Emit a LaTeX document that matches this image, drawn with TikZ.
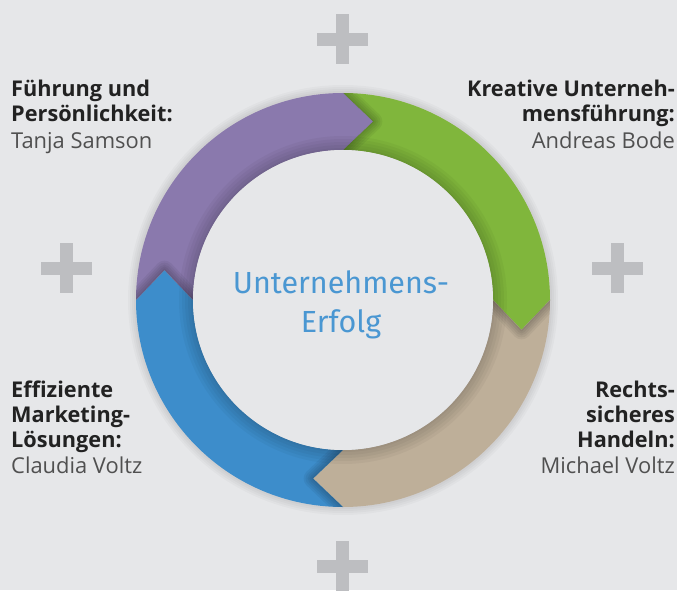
\documentclass[tikz,border=0pt]{standalone}
\usepackage{fontspec}
\setmainfont{Open Sans}
\newfontfamily\centerfont{Fira Sans}
\definecolor{bg}{HTML}{E6E7E9}
\definecolor{plusgray}{HTML}{BDBEC1}
\definecolor{segpurple}{HTML}{8A79AD}
\definecolor{seggreen}{HTML}{80B63C}
\definecolor{segbeige}{HTML}{BEAF99}
\definecolor{segblue}{HTML}{3D8DCB}
\definecolor{titleblue}{HTML}{4A97D2}
\definecolor{headtext}{HTML}{222222}
\definecolor{nametext}{HTML}{505050}
\newcommand\segpath[1]{(#1:207pt) arc[start angle=#1, end angle=#1-90, radius=207pt] -- (#1-99.5:181pt) -- (#1-90:150pt) arc[start angle=#1-90, end angle=#1, radius=150pt] -- (#1-9.5:181pt) -- cycle}
\newcommand\plusat[2]{\fill[plusgray] (#1-25.5,#2-6.5) rectangle (#1+25.5,#2+6.5); \fill[plusgray] (#1-6.5,#2-25) rectangle (#1+6.5,#2+25);}
\begin{document}
\begin{tikzpicture}[x=1pt,y=1pt,
  headlbl/.style={font=\fontsize{21.7}{26}\selectfont\bfseries, text=headtext, inner sep=0pt},
  namelbl/.style={font=\fontsize{21.9}{26}\selectfont, text=nametext, inner sep=0pt},
  centerlbl/.style={font=\centerfont\fontsize{30.5}{40}\selectfont, text=titleblue, inner sep=0pt}]
\fill[bg] (0,0) rectangle (677,590);
\useasboundingbox (0,0) rectangle (677,590);
% plus signs
\plusat{342.5}{550.5}
\plusat{66.5}{322}
\plusat{617.5}{322}
\plusat{342.5}{24}
\begin{scope}[shift={(343,290)}]
  % outer halo
  \foreach \w in {4,8,12,16} \draw[black, opacity=0.025, line width=\w pt] (0,0) circle[radius=207pt];
  % segments
  \fill[seggreen] \segpath{90};
  \fill[segbeige] \segpath{0};
  \fill[segblue] \segpath{-90};
  \fill[segpurple] \segpath{180};
  % tip shadows on following segment
  \foreach \s in {90,0,-90,180} {
    \begin{scope}
      \clip \segpath{\s-90};
      \foreach \w in {3,7,11,15,19} \draw[black, opacity=0.05, line width=\w pt, line join=round] (\s-90:207pt) -- (\s-99.5:181pt) -- (\s-90:150pt);
    \end{scope}
  }
  % inner shadow
  \foreach \w in {4,10,16,22,28} \draw[black, opacity=0.035, line width=\w pt] (0,0) circle[radius=150pt];
  \fill[bg] (0,0) circle[radius=150pt];
\end{scope}
% center text
\node[centerlbl, anchor=base] (c1) at (341,297) {Unternehmens-};
\node[centerlbl, anchor=base] (c2) at (341,258) {Erfolg};
% top left
\node[headlbl, anchor=base west] (tl1) at (11,493) {Führung und};
\node[headlbl, anchor=base west] (tl2) at (11,468) {Persönlichkeit:};
\node[namelbl, anchor=base west] (tl3) at (11,441) {Tanja Samson};
% top right
\node[headlbl, anchor=base east] (tr1) at (675,493) {Kreative Unterneh-};
\node[headlbl, anchor=base east] (tr2) at (675,468) {mensführung:};
\node[namelbl, anchor=base east] (tr3) at (675,441) {Andreas Bode};
% bottom left
\node[headlbl, anchor=base west] (bl1) at (11,193) {Effiziente};
\node[headlbl, anchor=base west] (bl2) at (11,168) {Marketing-};
\node[headlbl, anchor=base west] (bl3) at (11,143) {Lösungen:};
\node[namelbl, anchor=base west] (bl4) at (11,117) {Claudia Voltz};
% bottom right
\node[headlbl, anchor=base east] (br1) at (675,193) {Rechts-};
\node[headlbl, anchor=base east] (br2) at (675,168) {sicheres};
\node[headlbl, anchor=base east] (br3) at (675,143) {Handeln:};
\node[namelbl, anchor=base east] (br4) at (675,117) {Michael Voltz};
\end{tikzpicture}
\end{document}
